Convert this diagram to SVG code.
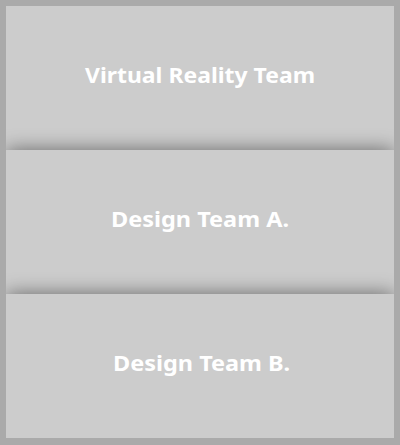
<svg xmlns="http://www.w3.org/2000/svg" width="400" height="445" viewBox="0 0 400 445">
<defs>
<style>
.box{fill:#cccccc;}
.lbl{fill:#ffffff;font-family:"Noto Sans","Open Sans","Liberation Sans",sans-serif;font-weight:bold;font-size:22px;text-anchor:middle;}
</style>
<clipPath id="inner"><rect x="6" y="6" width="388" height="432"/></clipPath>
<filter id="sh" x="-20%" y="-30%" width="140%" height="160%">
<feGaussianBlur in="SourceAlpha" stdDeviation="10"/>
<feComponentTransfer><feFuncA type="linear" slope="0.5"/></feComponentTransfer>
<feMerge><feMergeNode/><feMergeNode in="SourceGraphic"/></feMerge>
</filter>
</defs>
<rect x="0" y="0" width="400" height="445" fill="#aaaaaa"/>
<g clip-path="url(#inner)">
<g id="node-vr">
<rect class="box" x="6" y="6" width="388" height="144"/>
<text class="lbl" x="200" y="82.5" textLength="230" lengthAdjust="spacingAndGlyphs">Virtual Reality Team</text>
</g>
<g id="node-design-a">
<rect class="box" x="6" y="150" width="388" height="144" filter="url(#sh)"/>
<text class="lbl" x="200" y="226.5" textLength="178" lengthAdjust="spacingAndGlyphs">Design Team A.</text>
</g>
<g id="node-design-b">
<rect class="box" x="6" y="294" width="388" height="144" filter="url(#sh)"/>
<text class="lbl" x="201.5" y="371" textLength="177" lengthAdjust="spacingAndGlyphs">Design Team B.</text>
</g>
</g>
<g id="connectors"></g>
</svg>
